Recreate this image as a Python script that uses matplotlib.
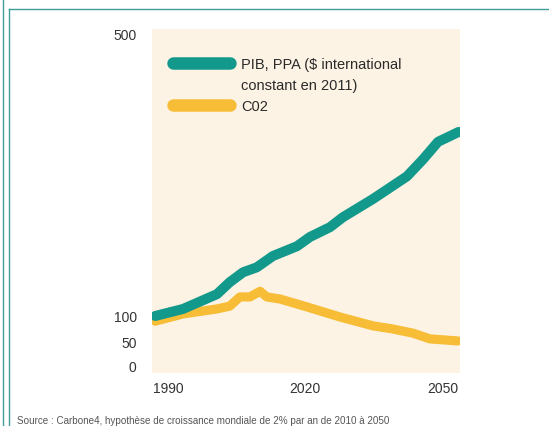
import numpy as np
import matplotlib
matplotlib.use("Agg")
import matplotlib.pyplot as plt
from matplotlib.lines import Line2D

# values (index, 1990 = 100)
years_pib = [1987.2, 1993.3, 2000.7, 2003.5, 2006.4, 2009.4, 2012.9, 2018.2,
             2021.0, 2025.4, 2028.2, 2034.8, 2042.2, 2045.7, 2049.0, 2053.5]
pib = [100, 110, 131, 148, 162, 169, 185, 199, 212, 226, 240, 266, 298, 322, 347, 361]

years_co2 = [1987.2, 1993.3, 2000.7, 2003.5, 2005.7, 2007.9, 2010.1, 2011.6,
             2014.5, 2020.3, 2027.6, 2034.8, 2039.1, 2043.5, 2047.2, 2053.3]
co2 = [90, 103, 110, 114, 127, 127, 135, 127, 124, 113, 98, 81, 75, 67, 56, 52]

x_ticks = [1990, 2020, 2050]
y_ticks = [0, 50, 100, 500]
labels = ["PIB, PPA ($ international", "constant en 2011)", "C02"]
source = "Source : Carbone4, hypothèse de croissance mondiale de 2% par an de 2010 à 2050"

teal = "#12998b"
yellow = "#f8bd36"
beige = "#fdf3e4"
frame = "#3f9e98"

# the value axis of the original is not linear: 0-100 squeezed, 100-500 stretched
knots_v = [-1000, 0, 50, 100, 500, 2000]
knots_t = [-480, 0, 24, 50, 332, 1389.5]


def fwd(v):
    return np.interp(v, knots_v, knots_t)


def inv(t):
    return np.interp(t, knots_t, knots_v)


font = ["Liberation Sans", "DejaVu Sans"]

fig = plt.figure(figsize=(5.49, 4.27), dpi=100)
ax = fig.add_axes([152 / 549, 1 - 374 / 427, 308 / 549, 344 / 427])
ax.set_facecolor(beige)
ax.set_yscale("function", functions=(fwd, inv))

l_co2, = ax.plot(years_co2, co2, color=yellow, lw=6.6, solid_capstyle="round",
                 solid_joinstyle="round")
l_pib, = ax.plot(years_pib, pib, color=teal, lw=7.2, solid_capstyle="round",
                 solid_joinstyle="round")

ax.set_xlim(1986.5, 2053.8)
ax.set_ylim(-14.6, 507)
ax.set_xticks(x_ticks)
ax.set_yticks(y_ticks)
ax.set_yticklabels([str(v) for v in y_ticks])
ax.tick_params(length=0, labelsize=10, colors="#333333")
ax.tick_params(axis="y", pad=11)
ax.tick_params(axis="x", pad=6)
for lab in ax.get_xticklabels() + ax.get_yticklabels():
    lab.set_family(font)
for s in ax.spines.values():
    s.set_visible(False)

# legend: second text line of the PIB entry gets an empty handle
blank = Line2D([], [], color="none")
leg = ax.legend([l_pib, blank, l_co2], labels, loc="upper left",
                bbox_to_anchor=(0.068, 0.918), borderpad=0, borderaxespad=0,
                frameon=False, handlelength=3.9, handletextpad=0.8,
                labelspacing=0.48, prop={"family": font, "size": 10.5})
for t in leg.get_texts():
    t.set_color("#2a2a2a")
for ln in leg.get_lines():
    ln.set_linewidth(9)
    ln.set_solid_capstyle("round")

# teal page frame
fig.add_artist(Line2D([3 / 549, 3 / 549], [0, 1], color=frame, lw=1))
fig.add_artist(Line2D([9 / 549, 9 / 549], [0, 1 - 10 / 427], color=frame, lw=1))
fig.add_artist(Line2D([9 / 549, 1], [1 - 10 / 427, 1 - 10 / 427], color=frame, lw=1))

fig.text(17 / 549, 1 - 421 / 427, source, fontsize=7.1, color="#555555",
         family=font, va="center")

fig.savefig("out.png", dpi=100)
